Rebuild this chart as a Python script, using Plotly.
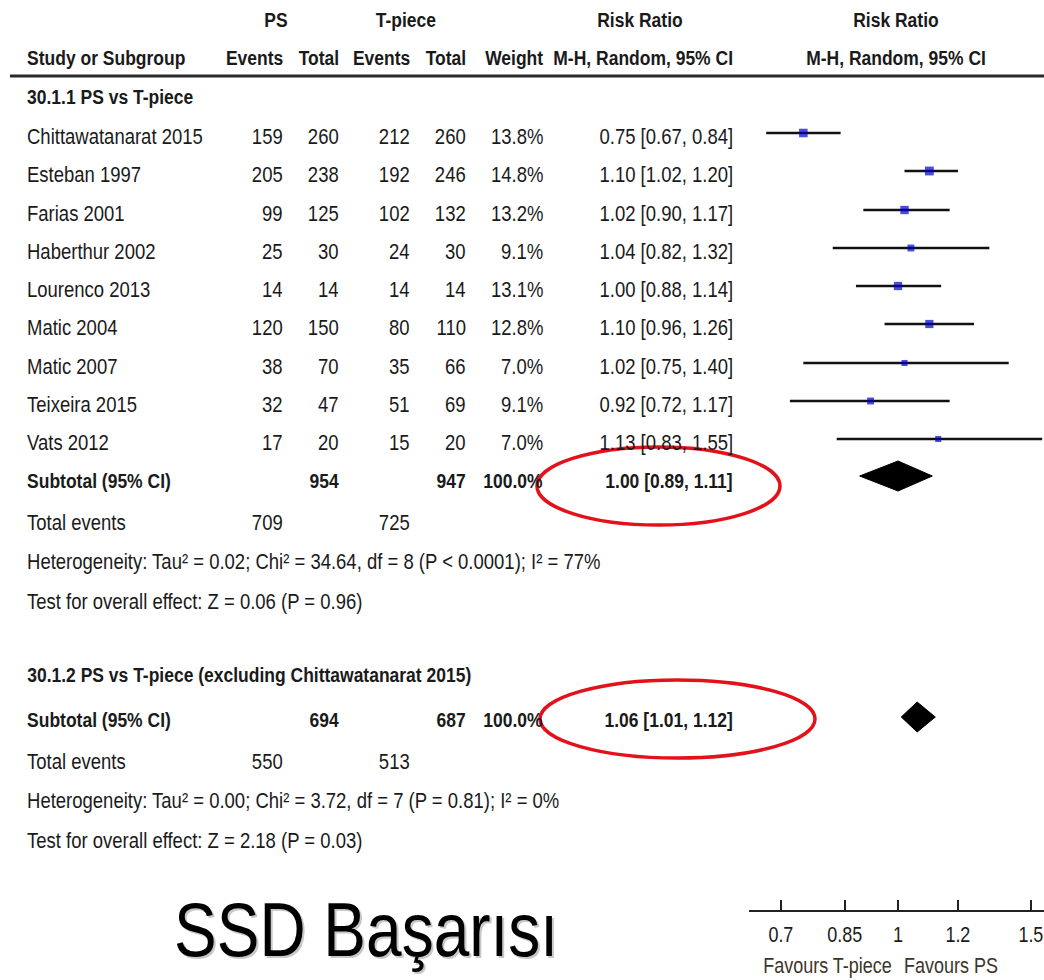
import math
import plotly.graph_objects as go

# ---- study data -------------------------------------------------------------
studies = ["Chittawatanarat 2015", "Esteban 1997", "Farias 2001", "Haberthur 2002",
           "Lourenco 2013", "Matic 2004", "Matic 2007", "Teixeira 2015", "Vats 2012"]
ps_events = [159, 205, 99, 25, 14, 120, 38, 32, 17]
ps_total = [260, 238, 125, 30, 14, 150, 70, 47, 20]
tp_events = [212, 192, 102, 24, 14, 80, 35, 51, 15]
tp_total = [260, 246, 132, 30, 14, 110, 66, 69, 20]
weights = [13.8, 14.8, 13.2, 9.1, 13.1, 12.8, 7.0, 9.1, 7.0]
rr = [0.75, 1.10, 1.02, 1.04, 1.00, 1.10, 1.02, 0.92, 1.13]
rr_lo = [0.67, 1.02, 0.90, 0.82, 0.88, 0.96, 0.75, 0.72, 0.83]
rr_hi = [0.84, 1.20, 1.17, 1.32, 1.14, 1.26, 1.40, 1.17, 1.55]

# pooled results: (estimate, lower, upper)
sub1 = (1.00, 0.89, 1.11)
sub1_totals = (954, 947)
sub1_events = (709, 725)
sub2 = (1.06, 1.01, 1.12)
sub2_totals = (694, 687)
sub2_events = (550, 513)

axis_ticks = [0.7, 0.85, 1, 1.2, 1.5]
axis_ticktext = ["0.7", "0.85", "1", "1.2", "1.5"]

# ---- layout helpers (pixel based, figure has no margins) --------------------
W, H = 1044, 980
AXIS_Y = 910
FONT = "Liberation Sans, Arial, sans-serif"
TXT = "#1a1a1a"
SQUEEZE = 0.84          # horizontal condensing applied to all text
REG_SIZE = 18.5 / SQUEEZE
BOLD_SIZE = 17.5 / SQUEEZE


def px(x):
    return x / W


def py(y):
    return 1 - y / H


study_rows = [133, 171, 210, 248, 286, 324, 363, 401, 439]
sub1_row = 476
sub2_row = 717
DIAMOND_HALF = 15

fig = go.Figure()

# confidence-interval whiskers
xs, ys = [], []
for lo, hi, y in zip(rr_lo, rr_hi, study_rows):
    xs += [lo, hi, None]
    ys += [y, y, None]
fig.add_trace(go.Scatter(x=xs, y=ys, mode="lines",
                         line=dict(color="#111111", width=2.5),
                         hoverinfo="skip", showlegend=False))

# point estimates, sized by weight
fig.add_trace(go.Scatter(x=rr, y=study_rows, mode="markers",
                         marker=dict(symbol="square", color="#0000c8",
                                     size=[2.3 * math.sqrt(w) for w in weights],
                                     line=dict(width=0)),
                         hoverinfo="skip", showlegend=False))

# pooled diamonds
for (est, lo, hi), yc in ((sub1, sub1_row), (sub2, sub2_row)):
    fig.add_trace(go.Scatter(x=[lo, est, hi, est, lo],
                             y=[yc, yc - DIAMOND_HALF, yc, yc + DIAMOND_HALF, yc],
                             mode="lines", fill="toself", fillcolor="black",
                             line=dict(color="black", width=1),
                             hoverinfo="skip", showlegend=False))

shapes = []
ann = []


def text(x, y, s, anchor="left", size=None, color=TXT, bold=False, family=FONT,
         xref="paper"):
    if size is None:
        size = BOLD_SIZE if bold else REG_SIZE
    ann.append(dict(x=px(x) if xref == "paper" else x, y=py(y), xref=xref,
                    yref="paper",
                    text=f"<b>{s}</b>" if bold else s, showarrow=False,
                    xanchor=anchor, yanchor="middle",
                    font=dict(family=family, size=size, color=color)))


# column right edges
C_PSE, C_PST, C_TPE, C_TPT, C_W, C_RR = 285, 341, 412, 468, 545, 735
NAME_X = 25

# headers
text(276, 19, "PS", "center", bold=True)
text(406, 19, "T-piece", "center", bold=True)
text(640, 19, "Risk Ratio", "center", bold=True)
text(896, 19, "Risk Ratio", "center", bold=True)
text(NAME_X, 57, "Study or Subgroup", bold=True)
for xr, lab in ((C_PSE, "Events"), (C_PST, "Total"), (C_TPE, "Events"),
                (C_TPT, "Total"), (C_W, "Weight"), (C_RR, "M-H, Random, 95% CI")):
    text(xr, 57, lab, "right", bold=True)
text(896, 57, "M-H, Random, 95% CI", "center", bold=True)

# subgroup 1
text(NAME_X, 97, "30.1.1 PS vs T-piece", bold=True)
for i, y in enumerate(study_rows):
    ty = y + 3
    text(NAME_X, ty, studies[i])
    text(C_PSE, ty, str(ps_events[i]), "right")
    text(C_PST, ty, str(ps_total[i]), "right")
    text(C_TPE, ty, str(tp_events[i]), "right")
    text(C_TPT, ty, str(tp_total[i]), "right")
    text(C_W, ty, f"{weights[i]:.1f}%", "right")
    text(C_RR, ty, f"{rr[i]:.2f} [{rr_lo[i]:.2f}, {rr_hi[i]:.2f}]", "right")


def subtotal_block(y0, totals, events, res, het, test):
    text(NAME_X, y0, "Subtotal (95% CI)", bold=True)
    text(C_PST, y0, str(totals[0]), "right", bold=True)
    text(C_TPT, y0, str(totals[1]), "right", bold=True)
    text(C_W, y0, "100.0%", "right", bold=True)
    text(C_RR, y0, f"{res[0]:.2f} [{res[1]:.2f}, {res[2]:.2f}]", "right", bold=True)
    text(NAME_X, y0 + 42, "Total events")
    text(C_PSE, y0 + 42, str(events[0]), "right")
    text(C_TPE, y0 + 42, str(events[1]), "right")
    text(NAME_X, y0 + 81, het)
    text(NAME_X, y0 + 121, test)


subtotal_block(480, sub1_totals, sub1_events, sub1,
               "Heterogeneity: Tau² = 0.02; Chi² = 34.64, df = 8 (P < 0.0001); I² = 77%",
               "Test for overall effect: Z = 0.06 (P = 0.96)")

text(NAME_X, 674, "30.1.2 PS vs T-piece (excluding Chittawatanarat 2015)", bold=True)
subtotal_block(719, sub2_totals, sub2_events, sub2,
               "Heterogeneity: Tau² = 0.00; Chi² = 3.72, df = 7 (P = 0.81); I² = 0%",
               "Test for overall effect: Z = 2.18 (P = 0.03)")

# forest-axis tick labels (log axis: annotation x is given in log10 units)
for v, lab in zip(axis_ticks, axis_ticktext):
    text(math.log10(v), 935, lab, "center", size=18 / SQUEEZE, xref="x")

# axis captions
text(827, 966, "Favours T-piece", "center", size=18 / SQUEEZE, color="#3d3529")
text(951, 966, "Favours PS", "center", size=18 / SQUEEZE, color="#3d3529")

# slide caption with soft shadow
text(174, 931, "SSD Başarısı", size=64 / SQUEEZE, color="#c8c8c8")
text(172, 929, "SSD Başarısı", size=64 / SQUEEZE, color="#000000")

# header rule
shapes.append(dict(type="line", xref="paper", yref="paper",
                   x0=px(10), x1=1, y0=py(76), y1=py(76),
                   line=dict(color="#2a2a2a", width=3)))
# line of no effect
shapes.append(dict(type="line", xref="x", yref="y", x0=0, x1=0,
                   y0=76, y1=AXIS_Y, line=dict(color="#4a4a4a", width=1.5),
                   layer="below"))
# highlight ellipses around the pooled estimates
for x0, x1, y0, y1 in ((537, 780, 447, 525), (540, 815, 680, 758)):
    shapes.append(dict(type="circle", xref="paper", yref="paper",
                       x0=px(x0), x1=px(x1), y0=py(y0), y1=py(y1),
                       line=dict(color="#e3121a", width=3.5)))

LOG_PX = 757.6  # pixels per decade on the forest axis
fig.update_layout(
    width=W, height=H, margin=dict(l=0, r=0, t=0, b=0),
    paper_bgcolor="white", plot_bgcolor="white",
    showlegend=False, hovermode=False,
    shapes=shapes, annotations=ann,
    xaxis=dict(type="log", domain=[px(749), 1],
               range=[(749 - 898) / LOG_PX, (1044 - 898) / LOG_PX],
               tickvals=axis_ticks, showticklabels=False,
               ticks="inside", ticklen=10, tickwidth=1.5, tickcolor="#222",
               showline=True, linecolor="#222", linewidth=2,
               showgrid=False, zeroline=False, fixedrange=True),
    yaxis=dict(domain=[py(AXIS_Y), 1], range=[AXIS_Y, 0], visible=False,
               fixedrange=True),
)

# condense every annotation text horizontally around its anchor side
condense_js = """
var gd = document.getElementById('{plot_id}');
var k = %s;
var origin = {left: 'left center', right: 'right center', center: 'center center'};
var anns = gd.layout.annotations || [];
gd.querySelectorAll('g.annotation').forEach(function (g) {
  var i = +g.getAttribute('data-index');
  var a = anns[i] || {};
  var t = g.querySelector('text.annotation-text');
  if (!t) return;
  t.style.transformBox = 'fill-box';
  t.style.transformOrigin = origin[a.xanchor || 'center'];
  t.style.transform = 'scaleX(' + k + ')';
});
""" % SQUEEZE

fig.write_html("out.html", config={"displayModeBar": False},
               post_script=condense_js)
